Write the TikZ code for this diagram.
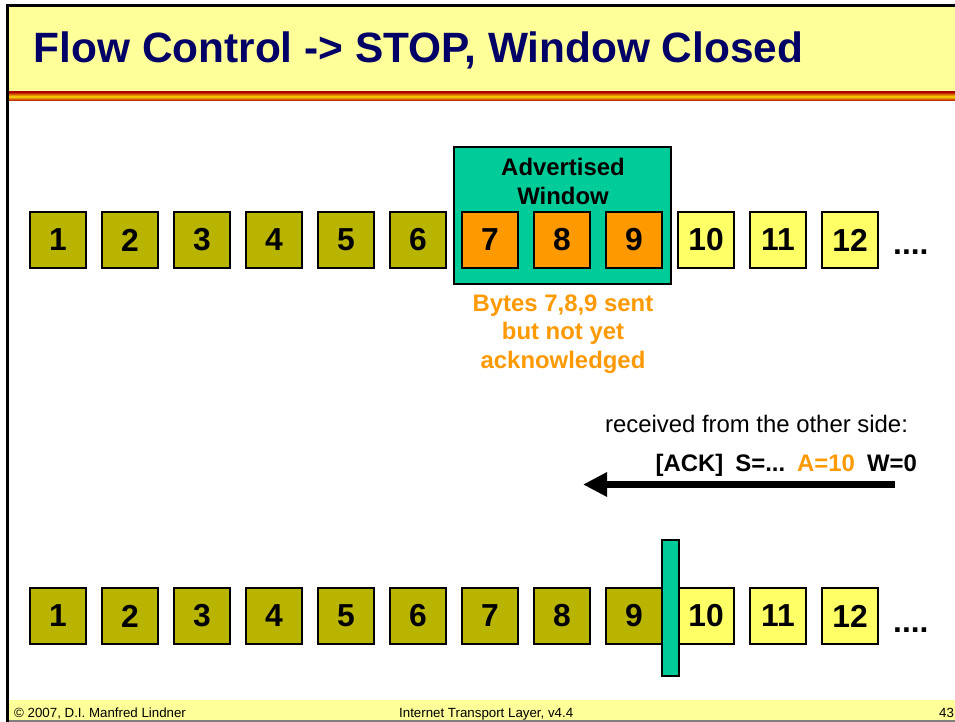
\documentclass[tikz,border=0pt]{standalone}
\usepackage{fontspec}
\setmainfont{Liberation Sans}
\usetikzlibrary{arrows.meta}

\definecolor{oliv}{RGB}{185,180,0}
\definecolor{hellgelb}{RGB}{255,255,102}
\definecolor{byteorange}{RGB}{255,153,0}
\definecolor{fenstergruen}{RGB}{0,204,153}
\definecolor{titelgelb}{RGB}{255,255,153}
\definecolor{titelblau}{RGB}{0,0,102}

\tikzset{
    byte/.style={draw=black, line width=1.2pt, minimum size=56pt, inner sep=0pt,
                 font=\fontsize{31.8}{36}\selectfont\bfseries},
    punkte/.style={anchor=base west, inner sep=0pt, font=\fontsize{31.8}{36}\selectfont\bfseries},
    fusszeile/.style={anchor=base west, inner sep=0pt, font=\fontsize{13.3}{15}\selectfont}
}

\begin{document}
\begin{tikzpicture}[x=1pt, y=-1pt]
    \useasboundingbox (0,0) rectangle (955,722);

    % Titelleiste
    \fill[titelgelb] (8,7) rectangle (955,92);
    \shade[top color=red!70!black, bottom color=red!70!black, middle color=yellow!70!orange]
        (8,92) rectangle (955,101);
    \node[anchor=base west, inner sep=0pt, text=titelblau,
          font=\fontsize{42.4}{48}\selectfont\bfseries] (titel) at (33.5,63)
        {Flow Control -> STOP, Window Closed};

    % Fusszeile
    \fill[titelgelb] (8,700) rectangle (955,720);
    \draw[gray, line width=1.5pt] (8,721) -- (955,721);
    \node[fusszeile] (autor) at (14,717) {© 2007, D.I. Manfred Lindner};
    \node[fusszeile] (thema) at (399,717) {Internet Transport Layer, v4.4};
    \node[fusszeile] (seite) at (939,717) {43};

    % Rahmen links und oben
    \draw[line width=3pt] (7,722) -- (7,5.5) -- (955,5.5);

    % Advertised Window (hinter den Bytes)
    \node[draw=black, line width=1.2pt, fill=fenstergruen, minimum width=217pt,
          minimum height=137pt, inner sep=0pt] (fenster) at (562.5,215.5) {};
    \node[align=center, inner sep=0pt, font=\fontsize{23.9}{29}\selectfont\bfseries]
        (fenstertext) at (563,181) {Advertised\\Window};

    % Obere Reihe: gesendete Bytes
    \foreach \i in {1,...,12} {
        \pgfmathsetmacro{\xpos}{58+72*(\i-1)}
        \ifnum\i<7 \def\farbe{oliv}\else\ifnum\i<10 \def\farbe{byteorange}\else\def\farbe{hellgelb}\fi\fi
        \node[byte, fill=\farbe] (oben\i) at (\xpos,240) {\i};
    }
    \node[punkte] (obenpunkte) at (893,254) {....};

    % Text unter dem Fenster
    \node[align=center, inner sep=0pt, text=byteorange,
          font=\fontsize{23.9}{28.5}\selectfont\bfseries] (hinweis) at (563,334)
        {Bytes 7,8,9 sent\\but not yet\\acknowledged};

    % Empfangene Quittung
    \node[anchor=base, inner sep=0pt, font=\fontsize{23.9}{28}\selectfont]
        (empfangen) at (756.5,432) {received from the other side:};
    \node[anchor=base east, inner sep=0pt, font=\fontsize{23.9}{28}\selectfont\bfseries]
        (quittung) at (917,471)
        {[ACK]\hspace{12pt}S=...\hspace{12pt}\textcolor{byteorange}{A=10}\hspace{12pt}W=0};
    \coordinate (pfeilstart) at (895,484.5);
    \coordinate (pfeilende) at (583,484.5);
    \draw[line width=6.5pt, -{Triangle[length=24pt, width=23pt]}] (pfeilstart) -- (pfeilende);

    % Untere Reihe: nach der Quittung
    \foreach \i in {1,...,12} {
        \pgfmathsetmacro{\xpos}{58+72*(\i-1)}
        \ifnum\i<10 \def\farbe{oliv}\else\def\farbe{hellgelb}\fi
        \node[byte, fill=\farbe] (unten\i) at (\xpos,616) {\i};
    }
    \node[punkte] (untenpunkte) at (893,632) {....};

    % Fenstergrenze (Window geschlossen)
    \node[draw=black, line width=1.2pt, fill=fenstergruen, minimum width=17pt,
          minimum height=136pt, inner sep=0pt] (grenze) at (670.5,608) {};
\end{tikzpicture}
\end{document}
